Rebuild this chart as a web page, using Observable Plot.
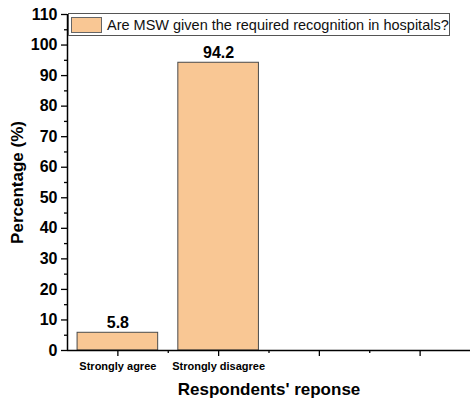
<!DOCTYPE html>
<html><head><meta charset="utf-8">
<script src="https://cdn.jsdelivr.net/npm/d3@7"></script>
<script src="https://cdn.jsdelivr.net/npm/@observablehq/plot@0.6"></script>
<style>
body{margin:0;background:#fff;}
#wrap{position:relative;width:470px;height:403px;font-family:"Liberation Sans",Arial,sans-serif;}
#legend{position:absolute;left:68px;top:13px;width:382px;height:23px;border:1px solid #555;box-sizing:border-box;background:#fff;display:flex;align-items:center;}
#legend .sw{width:31px;height:16px;margin-left:2px;background:#F9C794;border:1px solid #666;box-sizing:border-box;}
#legend .lt{margin-left:5px;font-size:14.5px;color:#111;white-space:nowrap;}
</style></head>
<body><div id="wrap"></div>
<script>
const categories = ["Strongly agree", "Strongly disagree", "", ""];
const values = [5.8, 94.2];
const legendLabel = "Are MSW given the required recognition in hospitals?";
const yLabel = "Percentage (%)";
const xLabel = "Respondents' reponse";
const yTicks = d3.range(0, 111, 10);
const yMinor = d3.range(5, 110, 10);

const data = values.map((v, i) => ({i, category: categories[i], value: v}));
const barFill = "#F9C794";

const chart = Plot.plot({
  width: 470, height: 403,
  marginLeft: 67, marginRight: 0, marginTop: 14, marginBottom: 53,
  style: {fontFamily: "'Liberation Sans', Arial, sans-serif", color: "#000", background: "#fff"},
  x: {domain: [0, categories.length]},
  y: {domain: [0, 110]},
  marks: [
    Plot.rectY(data, {x1: d => d.i + 0.1, x2: d => d.i + 0.9, y: "value", fill: barFill, stroke: "#4a4a4a", strokeWidth: 1}),
    Plot.text(data, {x: d => d.i + 0.5, y: "value", text: d => d.value.toFixed(1), dy: -10, fontSize: 16, fontWeight: "bold", fill: "#000"}),
    Plot.axisY({ticks: yTicks, tickSize: 6, tickPadding: 4, fontSize: 16, fontWeight: "bold", label: null, strokeWidth: 1.3}),
    Plot.axisY({ticks: yMinor, tickSize: 3, text: null, label: null, strokeWidth: 1.3}),
    Plot.axisX({ticks: categories.map((c, i) => i + 0.5), tickFormat: v => categories[Math.floor(v)], tickSize: 6, tickPadding: 6, fontSize: 11, fontWeight: "bold", label: null, strokeWidth: 1.3}),
    Plot.axisX({ticks: d3.range(1, categories.length), tickSize: 3, text: null, label: null, strokeWidth: 1.3}),
    Plot.ruleX([0], {strokeWidth: 1.5}),
    Plot.ruleY([0], {strokeWidth: 1.5}),
    Plot.text([yLabel], {frameAnchor: "left", dx: -50, rotate: -90, textAnchor: "middle", lineAnchor: "middle", fontSize: 17, fontWeight: "bold", fill: "#000"}),
    Plot.text([xLabel], {frameAnchor: "bottom", dy: 39.5, textAnchor: "middle", lineAnchor: "middle", fontSize: 17, fontWeight: "bold", fill: "#000"})
  ]
});
const wrap = document.getElementById("wrap");
wrap.appendChild(chart);
const leg = document.createElement("div");
leg.id = "legend";
leg.innerHTML = `<div class="sw"></div><div class="lt"></div>`;
leg.querySelector(".lt").textContent = legendLabel;
wrap.appendChild(leg);
</script>
</body></html>
